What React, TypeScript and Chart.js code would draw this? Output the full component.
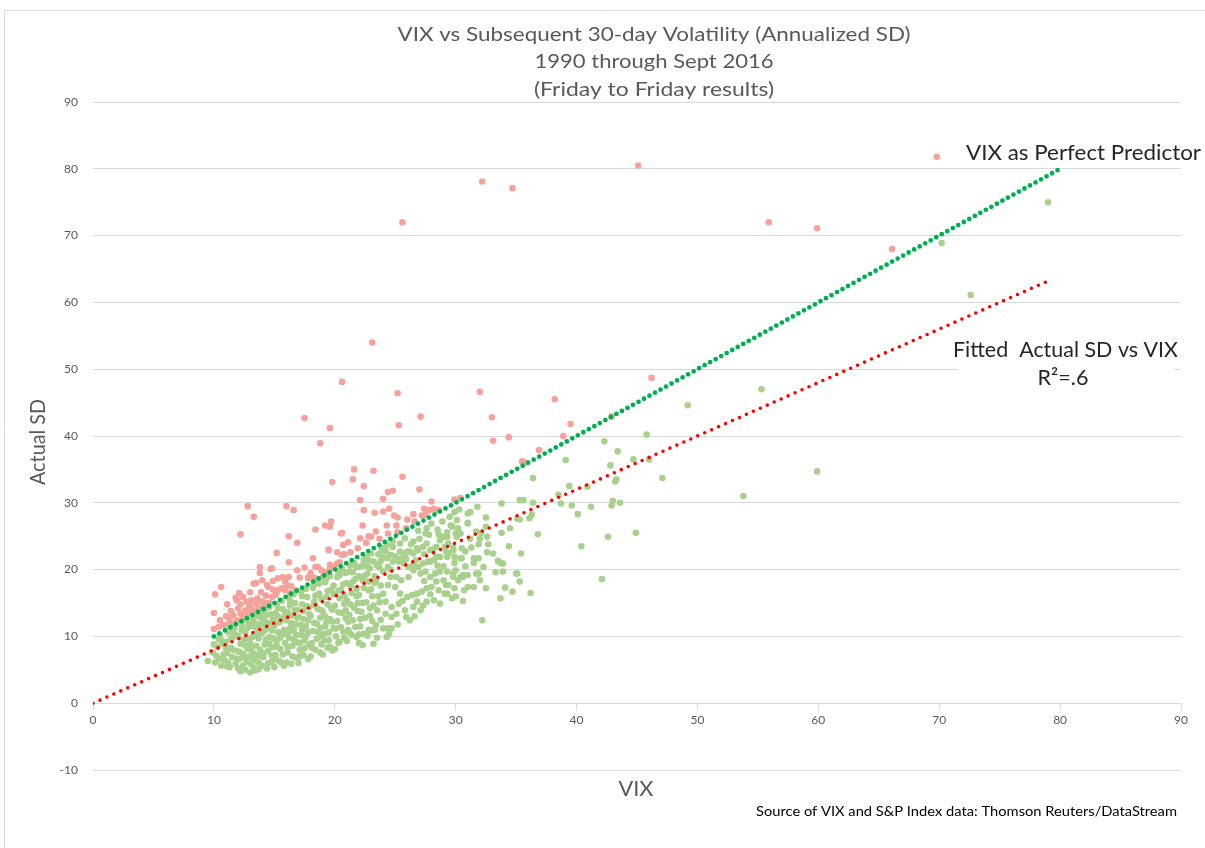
import { useEffect, useRef } from "react";
import { Chart, registerables } from "chart.js";

Chart.register(...registerables);

// ---------- axis ranges / ticks ----------
const X_MIN = 0;
const X_MAX = 90;
const Y_MIN = -10;
const Y_MAX = 90;
const TICK_STEP = 10;

// ---------- texts ----------
const TITLE_LINES = [
  "VIX vs Subsequent 30-day Volatility (Annualized SD)",
  "1990 through Sept 2016",
  "(Friday to Friday results)",
];
const X_TITLE = "VIX";
const Y_TITLE = "Actual SD";
const SOURCE_TEXT = "Source of VIX and S&P Index data: Thomson Reuters/DataStream";
const PERFECT_LABEL = "VIX as Perfect Predictor";
const FITTED_LABEL = "Fitted  Actual SD vs VIX";
const R2_LABEL = "R\u00B2=.6";

// ---------- reference lines (VIX, SD) ----------
const PERFECT_LINE: [number, number][] = [[10, 10], [80, 80]];
const FITTED_LINE: [number, number][] = [[0, 0], [79, 63.2]];

// ---------- weeks where actual SD exceeded VIX (red) ----------
const RED_POINTS: [number, number][] = [
  [32.2, 78.1], [34.7, 77.1], [45.1, 80.5], [25.6, 72.0], [69.8, 81.8], [55.9, 72.0], [59.9, 71.1], [66.1, 68.0],
  [23.1, 54.0], [20.6, 48.1], [25.2, 46.4], [32.0, 46.6], [38.2, 45.5], [46.2, 48.7], [27.1, 42.9], [17.5, 42.7],
  [33.0, 42.8], [19.6, 41.2], [25.3, 41.6], [18.8, 38.9], [33.1, 39.3], [34.4, 39.8], [39.5, 41.8], [38.9, 40.0],
  [42.9, 42.9], [36.9, 37.9], [35.5, 36.2], [35.8, 36.0], [29.9, 30.5], [30.4, 30.7],
  [21.6, 35.0], [23.2, 34.8], [21.5, 33.5], [19.8, 33.1], [22.4, 32.5], [25.6, 33.9], [27.0, 32.0], [22.1, 30.4],
  [24.4, 31.6], [24.8, 31.8], [24.0, 30.6], [28.0, 30.2], [12.8, 29.5], [13.3, 27.9], [16.0, 29.5], [16.6, 28.9],
  [22.4, 28.9], [23.3, 28.5], [24.0, 28.7], [24.5, 29.1], [24.9, 28.1], [26.5, 28.3], [27.2, 28.1], [27.5, 28.2],
  [27.4, 29.1], [28.2, 29.1], [28.6, 28.9], [26.0, 27.5], [25.1, 26.6], [22.3, 26.6], [19.2, 26.6], [19.6, 26.4],
  [19.7, 27.2], [18.4, 26.0], [12.2, 25.3], [16.2, 25.0], [20.5, 25.4], [22.8, 25.0], [23.0, 24.9], [22.1, 24.7],
  [25.9, 26.2], [27.8, 28.9], [25.2, 27.8], [26.6, 27.2], [20.6, 25.5], [23.7, 24.6], [24.4, 25.4], [25.2, 25.6],
  [20.7, 23.7], [21.1, 24.1], [19.5, 22.9], [20.2, 22.6], [20.6, 22.2], [20.8, 22.3], [19.6, 20.7], [19.9, 20.4],
  [20.2, 20.9], [20.4, 21.1], [19.0, 18.9], [19.6, 20.1],
  [16.9, 24.0], [15.2, 22.5], [16.2, 21.1], [14.7, 20.1], [13.8, 19.5], [15.7, 18.9], [13.5, 18.0], [14.9, 18.3],
  [10.6, 17.4], [10.1, 16.3], [12.1, 16.5], [14.5, 17.4], [15.3, 16.9], [15.9, 16.9], [16.4, 17.5], [17.1, 18.8],
  [17.8, 18.8], [18.2, 21.7], [19.5, 23.0], [11.8, 15.8], [18.6, 20.4], [19.2, 19.6],
  [10.0, 13.5], [10.0, 11.1], [11.1, 14.8], [11.9, 15.4], [12.2, 14.8], [12.7, 15.2], [13.1, 15.4], [13.5, 14.9],
  [14.0, 15.2], [14.4, 14.9], [13.0, 14.4], [13.4, 13.9], [13.8, 14.2], [14.2, 14.4], [14.6, 15.0], [12.6, 13.9],
  [12.8, 13.4], [13.1, 13.5], [12.2, 13.4], [12.4, 12.9], [11.9, 12.4], [11.6, 11.9], [11.2, 11.9], [10.8, 11.7],
  [11.3, 12.7], [14.8, 15.9], [15.1, 16.2], [14.4, 17.7], [14.0, 18.4], [13.3, 17.9], [15.6, 17.2], [16.0, 17.7],
  [16.3, 16.5], [16.8, 16.9], [17.8, 18.7], [18.3, 18.8], [15.3, 18.7], [15.2, 16.7], [18.4, 20.4], [18.9, 19.9],
  [13.8, 20.4], [14.8, 20.2], [16.2, 18.9], [11.6, 13.2], [10.5, 12.4],
  [12.0, 14.2], [12.9, 14.8], [13.6, 15.7], [14.3, 16.1], [12.4, 15.9], [13.0, 16.6], [11.4, 13.8], [11.0, 13.0],
  [10.4, 11.4], [15.9, 18.2], [16.9, 19.9], [17.5, 20.3], [18.0, 19.5], [21.3, 22.6], [21.9, 23.2], [22.6, 24.0],
  [23.4, 25.7], [24.3, 26.6], [13.9, 16.6], [14.9, 17.0],
];

// ---------- weeks where actual SD was below VIX (green) ----------
const GREEN_DENSE: [number, number][] = [
  [9.5, 6.3], [9.9, 7.6], [10.1, 6.1], [10.3, 8.4], [10.4, 9.6], [10.2, 7.1], [10.6, 5.6], [10.7, 8.9], [10.5, 10.2],
  [10.9, 6.4], [11.1, 7.5], [11.0, 9.2], [11.2, 10.6], [11.3, 5.4], [11.4, 8.3], [11.5, 6.9], [11.6, 9.9], [11.7, 11.2],
  [11.8, 5.9], [11.9, 7.8], [11.5, 10.9],
  [12.0, 5.2], [12.1, 6.6], [12.2, 8.9], [12.0, 10.0], [12.3, 11.6], [12.4, 7.4], [12.5, 9.5], [12.6, 5.0], [12.7, 6.2],
  [12.8, 8.1], [12.6, 10.6], [12.9, 11.9], [12.3, 12.2], [12.9, 7.0], [12.2, 4.8],
  [13.0, 4.6], [13.1, 5.8], [13.2, 7.6], [13.0, 9.0], [13.3, 10.2], [13.2, 12.6], [13.4, 6.5], [13.5, 8.6], [13.6, 11.2],
  [13.7, 5.1], [13.8, 7.1], [13.7, 9.7], [13.9, 12.8], [13.9, 13.6], [13.4, 4.9], [13.6, 13.1], [13.3, 11.5],
  [14.0, 5.6], [14.1, 6.9], [14.2, 8.8], [14.0, 10.5], [14.3, 12.1], [14.2, 14.0], [14.4, 5.2], [14.5, 7.8], [14.6, 9.9],
  [14.4, 11.3], [14.7, 13.3], [14.8, 6.2], [14.9, 8.4], [14.8, 10.9], [14.9, 12.5], [14.6, 14.4],
  [15.0, 5.4], [15.1, 7.2], [15.2, 9.3], [15.0, 11.6], [15.3, 13.0], [15.2, 14.8], [15.4, 6.3], [15.5, 8.1], [15.6, 10.4],
  [15.5, 12.3], [15.7, 14.1], [15.8, 5.6], [15.9, 9.0], [15.8, 11.0], [15.9, 13.6], [15.6, 15.3], [15.3, 10.6],
  [16.0, 6.1], [16.1, 7.6], [16.2, 9.8], [16.0, 12.4], [16.3, 14.6], [16.2, 15.8], [16.4, 5.9], [16.5, 8.6], [16.6, 10.9],
  [16.4, 13.1], [16.7, 15.0], [16.8, 6.8], [16.9, 9.1], [16.8, 11.8], [16.9, 14.0], [16.6, 16.3], [16.3, 11.2],
  [17.0, 6.0], [17.1, 8.0], [17.2, 10.2], [17.0, 12.9], [17.3, 14.8], [17.2, 16.6], [17.4, 7.2], [17.5, 9.4], [17.6, 11.5],
  [17.4, 13.8], [17.7, 15.9], [17.8, 6.6], [17.9, 8.7], [17.8, 12.4], [17.9, 14.4], [17.6, 17.1], [17.3, 11.0],
  [18.0, 7.0], [18.1, 9.0], [18.2, 10.8], [18.0, 13.1], [18.3, 15.2], [18.2, 17.3], [18.4, 8.0], [18.5, 11.9], [18.6, 14.1],
  [18.4, 16.1], [18.7, 17.9], [18.8, 7.6], [18.9, 10.1], [18.8, 12.8], [18.9, 15.6], [18.6, 18.3],
  [19.0, 7.3], [19.1, 9.4], [19.2, 11.5], [19.0, 13.7], [19.3, 15.9], [19.2, 18.1], [19.4, 8.3], [19.5, 10.6], [19.6, 12.6],
  [19.4, 14.8], [19.7, 17.0], [19.8, 7.9], [19.9, 11.2], [19.8, 14.0], [19.9, 16.3], [19.6, 19.0], [19.3, 12.1],
  [20.0, 8.1], [20.1, 10.0], [20.2, 12.3], [20.0, 14.6], [20.3, 16.8], [20.2, 18.9], [20.4, 9.2], [20.5, 11.4], [20.6, 13.5],
  [20.4, 15.7], [20.7, 17.8], [20.8, 9.8], [20.9, 12.7], [20.8, 14.9], [20.9, 19.5], [20.6, 20.1],
  [21.0, 9.3], [21.1, 11.0], [21.2, 13.2], [21.0, 15.4], [21.3, 17.6], [21.2, 19.7], [21.4, 10.2], [21.5, 12.4], [21.6, 14.3],
  [21.4, 16.5], [21.7, 18.6], [21.8, 9.9], [21.9, 13.8], [21.8, 16.0], [21.9, 20.4], [21.6, 21.0],
  [22.0, 9.0], [22.1, 11.5], [22.2, 13.7], [22.0, 16.2], [22.3, 18.4], [22.2, 20.5], [22.4, 10.4], [22.5, 12.8], [22.6, 15.1],
  [22.4, 17.3], [22.7, 19.4], [22.8, 11.0], [22.9, 14.2], [22.8, 16.9], [22.9, 21.3], [22.6, 21.9], [22.3, 8.7],
  [23.0, 10.9], [23.1, 12.3], [23.2, 14.6], [23.0, 17.1], [23.3, 19.0], [23.2, 21.2], [23.4, 11.7], [23.5, 13.9], [23.6, 16.0],
  [23.4, 18.2], [23.7, 20.3], [23.8, 12.5], [23.6, 22.3], [23.2, 8.9],
];

const GREEN_DENSE_FILL: [number, number][] = [
  [10.8, 7.3], [10.4, 6.6], [10.0, 8.8], [10.6, 9.4], [11.0, 8.2],
  [11.2, 6.0], [11.4, 9.6], [11.6, 8.0], [11.8, 10.2], [11.3, 11.4], [11.9, 6.7], [11.1, 5.5],
  [12.1, 7.7], [12.4, 5.6], [12.3, 10.9], [12.6, 8.6], [12.8, 11.3], [12.5, 6.9], [12.9, 9.6], [12.7, 12.5],
  [13.1, 8.3], [13.3, 5.3], [13.2, 9.9], [13.5, 7.2], [13.6, 10.5], [13.8, 8.0], [13.9, 11.8], [13.4, 12.0], [13.1, 6.8], [13.7, 6.1],
  [14.1, 7.5], [14.3, 9.5], [14.2, 10.9], [14.5, 6.0], [14.6, 8.8], [14.7, 12.0], [14.9, 9.7], [14.4, 13.2], [14.8, 7.1], [14.1, 12.8],
  [15.1, 6.6], [15.2, 8.5], [15.4, 12.1], [15.5, 9.8], [15.7, 7.3], [15.8, 12.8], [15.9, 10.4], [15.3, 14.2], [15.6, 6.0], [15.1, 13.5],
  [16.1, 8.4], [16.2, 10.7], [16.4, 12.0], [16.5, 7.0], [16.7, 13.9], [16.8, 10.2], [16.9, 12.8], [16.3, 15.3], [16.6, 9.5], [16.1, 13.6],
  [17.1, 9.0], [17.2, 11.7], [17.4, 12.6], [17.5, 8.2], [17.7, 14.5], [17.8, 10.6], [17.9, 13.3], [17.3, 16.0], [17.6, 10.0], [17.1, 7.0],
  [18.1, 8.3], [18.3, 12.0], [18.4, 14.6], [18.5, 9.6], [18.7, 16.4], [18.8, 11.3], [18.9, 13.9], [18.3, 17.8], [18.6, 10.6],
  [19.1, 10.4], [19.2, 13.0], [19.4, 16.8], [19.5, 9.4], [19.7, 14.3], [19.8, 12.2], [19.9, 17.6], [19.3, 18.7],
  [20.1, 11.2], [20.3, 13.6], [20.5, 17.0], [20.7, 10.7], [20.8, 16.1], [20.9, 13.9], [20.4, 19.2],
  [21.1, 12.2], [21.3, 14.8], [21.5, 18.2], [21.7, 11.4], [21.8, 17.1], [21.9, 15.0], [21.3, 20.6],
  [22.1, 12.6], [22.3, 15.0], [22.5, 19.1], [22.7, 10.1], [22.8, 18.2], [22.9, 13.1], [22.4, 21.4],
  [23.1, 16.0], [23.3, 11.0], [23.5, 20.6], [23.7, 15.1], [23.8, 17.6], [23.9, 22.9],
];

const GREEN_MID: [number, number][] = [
  [23.9, 23.2], [24.3, 23.7], [24.8, 23.4], [24.0, 21.9], [24.6, 22.2], [25.4, 22.7], [25.8, 22.4], [26.2, 22.7],
  [26.5, 22.4], [26.9, 22.9], [27.3, 23.4], [27.6, 23.9], [27.9, 22.9], [28.4, 23.4], [28.7, 24.4], [28.6, 25.3],
  [29.0, 24.9], [29.3, 25.6], [29.7, 26.4], [30.1, 27.4], [30.2, 26.2], [29.4, 23.9], [29.8, 23.2], [30.5, 23.2],
  [30.4, 21.7], [29.9, 21.9], [29.3, 21.9], [28.7, 21.9], [28.2, 21.4], [27.7, 21.2], [27.3, 20.9], [26.9, 20.4],
  [26.5, 20.7], [26.1, 20.4], [25.7, 20.9], [25.3, 21.2], [24.8, 21.2], [24.4, 20.4], [24.0, 19.7], [24.6, 18.9],
  [25.1, 18.9], [25.5, 18.4], [26.1, 18.9], [26.5, 19.9], [27.1, 19.4], [27.5, 19.7], [27.9, 18.9], [28.3, 19.4],
  [28.7, 19.7], [29.3, 19.7], [29.8, 19.4], [30.2, 18.4], [30.6, 18.9], [31.0, 19.2], [31.7, 19.4], [32.0, 18.4],
  [31.5, 17.4], [31.0, 17.4], [29.9, 17.2], [29.4, 17.7], [29.0, 18.4], [28.4, 18.2], [28.0, 17.4], [27.6, 17.2],
  [27.2, 16.7], [26.8, 16.4], [26.4, 16.2], [26.0, 15.9], [25.4, 16.4], [25.0, 17.4], [24.4, 17.7], [24.0, 16.4],
  [24.2, 15.2], [24.7, 14.4], [25.3, 14.9], [25.8, 13.9], [26.5, 14.4], [27.1, 13.9], [27.6, 15.2], [28.2, 15.4],
  [28.7, 14.9], [29.3, 16.4], [29.7, 15.7], [24.2, 13.4], [24.7, 12.9], [25.1, 13.4], [26.2, 12.4], [24.0, 11.2],
  [24.4, 11.2], [24.7, 11.2], [24.3, 9.9],
  [26.5, 24.2], [26.8, 23.2], [27.5, 25.4], [27.6, 26.2], [26.0, 22.7], [25.5, 21.7], [24.3, 21.7], [23.6, 20.7],
  [22.9, 20.2], [22.4, 20.7], [21.8, 20.4], [29.8, 22.9], [28.4, 21.9], [27.9, 21.2],
  [20.3, 19.7], [21.0, 18.0], [21.5, 19.6], [22.0, 19.0], [22.6, 20.6], [23.0, 22.4], [23.3, 18.0], [23.8, 21.3],
  [24.2, 22.8], [24.6, 20.0], [25.0, 22.0], [25.4, 23.9], [25.9, 21.6], [26.3, 23.8], [26.7, 21.4], [27.0, 24.6],
  [27.4, 22.3], [27.8, 25.2], [28.1, 23.0], [28.5, 26.0], [28.9, 27.2], [29.2, 22.7], [29.5, 27.9], [29.9, 28.6],
  [30.3, 29.0], [28.0, 26.9], [26.9, 25.8], [25.8, 24.7], [24.8, 24.3], [23.5, 9.8], [24.5, 10.4], [25.2, 11.8],
  [25.9, 12.9], [26.6, 13.0], [27.3, 14.6], [27.9, 16.3], [28.6, 16.9], [29.2, 17.7], [30.0, 19.9], [21.2, 10.6],
  [22.0, 10.3], [20.3, 9.0], [19.6, 8.4], [18.9, 8.8], [25.6, 15.3], [26.8, 15.2], [27.4, 18.3], [28.5, 20.6],
  [29.0, 20.5], [30.8, 20.5], [31.3, 23.3], [31.9, 23.8], [32.7, 23.8], [32.3, 20.4], [31.2, 24.6], [30.8, 22.7],
];

const GREEN_SPARSE: [number, number][] = [
  [49.2, 44.6], [55.3, 47.0], [45.8, 40.2], [42.3, 39.2], [43.4, 37.7], [39.1, 36.4], [42.8, 35.6], [44.7, 36.5],
  [46.0, 36.5], [47.1, 33.7], [36.4, 33.7], [39.4, 32.5], [40.9, 32.4], [43.3, 33.5], [43.2, 33.2], [38.5, 31.2],
  [38.7, 29.9], [39.6, 29.6], [40.1, 28.3], [41.2, 29.4], [43.0, 30.3], [42.9, 29.6], [43.6, 30.0], [36.4, 30.0],
  [35.3, 30.4], [35.6, 30.4], [33.8, 29.9], [44.9, 25.5], [42.6, 24.9], [40.4, 23.5], [36.8, 25.3], [35.4, 22.4],
  [34.5, 26.2], [36.3, 28.2], [35.1, 27.6], [42.1, 18.6], [36.2, 16.5], [34.7, 16.7], [35.3, 18.2], [34.1, 17.3],
  [35.0, 19.4], [33.9, 19.7], [33.3, 19.6], [33.7, 21.0], [32.2, 12.4], [32.5, 17.2], [33.1, 22.4], [31.9, 21.7],
  [31.5, 21.0], [30.7, 16.9], [30.4, 18.9], [30.6, 15.3], [30.0, 16.0], [31.7, 25.7], [32.1, 25.5], [32.5, 27.8],
  [32.0, 24.6], [32.6, 24.9], [31.8, 29.4], [31.0, 28.4], [31.0, 27.0], [30.1, 24.9], [29.6, 26.6], [30.4, 25.4],
  [53.8, 31.0], [59.9, 34.7], [70.2, 68.9], [72.6, 61.1], [79.0, 75.0],
  [31.2, 28.6], [36.1, 27.7], [35.3, 27.5], [32.5, 26.4], [31.0, 26.9], [29.7, 26.5], [30.0, 25.4], [29.3, 24.9],
  [29.1, 23.4], [29.4, 22.4], [29.9, 21.0], [30.5, 21.7], [31.5, 21.7], [32.6, 22.6], [33.5, 21.3], [33.9, 20.9],
  [34.4, 23.5], [33.8, 25.5], [35.1, 19.4], [33.7, 15.7], [31.9, 19.4], [30.6, 19.2], [29.1, 16.4], [29.8, 18.9],
];

// ---------- styling ----------
const FONT = "Lato, 'Open Sans', sans-serif";
const GRAY = "#595959";
const GRID = "#d9d9d9";
const GREEN_DOT = "#A9D18E";
const RED_DOT = "#F4A29B";

const toXY = (pts: [number, number][]) => pts.map(([x, y]) => ({ x, y }));

function drawText(
  ctx: CanvasRenderingContext2D,
  text: string,
  x: number,
  y: number,
  o: { size: number; color: string; align?: CanvasTextAlign; width?: number; rotate?: number }
) {
  ctx.save();
  ctx.font = `${o.size}px ${FONT}`;
  ctx.fillStyle = o.color;
  ctx.textBaseline = "middle";
  ctx.textAlign = o.align || "center";
  const w = ctx.measureText(text).width;
  const sx = o.width ? o.width / w : 1;
  ctx.translate(x, y);
  if (o.rotate) ctx.rotate(o.rotate);
  ctx.scale(sx, 1);
  ctx.fillText(text, 0, 0);
  ctx.restore();
}

const decorPlugin = {
  id: "decor",
  beforeDraw(chart: any) {
    const ctx = chart.ctx as CanvasRenderingContext2D;
    ctx.save();
    ctx.fillStyle = "#ffffff";
    ctx.fillRect(0, 0, chart.width, chart.height);
    ctx.strokeStyle = GRID;
    ctx.lineWidth = 1;
    ctx.beginPath();
    ctx.moveTo(4.5, chart.height);
    ctx.lineTo(4.5, 10.5);
    ctx.lineTo(chart.width, 10.5);
    ctx.stroke();
    ctx.restore();
  },
  afterDraw(chart: any) {
    const ctx = chart.ctx as CanvasRenderingContext2D;
    drawText(ctx, TITLE_LINES[0], 654, 35, { size: 20, color: GRAY, width: 513 });
    drawText(ctx, TITLE_LINES[1], 654, 62, { size: 20, color: GRAY, width: 239 });
    drawText(ctx, TITLE_LINES[2], 654, 90, { size: 20, color: GRAY, width: 240 });

    drawText(ctx, PERFECT_LABEL, 966, 153, { size: 22, color: "#262626", align: "left", width: 235 });

    ctx.save();
    ctx.fillStyle = "#ffffff";
    ctx.fillRect(958, 334, 216, 58);
    ctx.restore();
    drawText(ctx, FITTED_LABEL, 953, 350, { size: 22, color: "#262626", align: "left", width: 225 });
    drawText(ctx, R2_LABEL, 1063, 378, { size: 22, color: "#262626", width: 51 });

    drawText(ctx, X_TITLE, 636, 789, { size: 22, color: GRAY, width: 35 });
    drawText(ctx, Y_TITLE, 38, 442, { size: 22, color: GRAY, width: 86, rotate: -Math.PI / 2 });
    drawText(ctx, SOURCE_TEXT, 1177, 812, { size: 13, color: "#000000", align: "right", width: 421 });
  },
};

export default function App() {
  const canvasRef = useRef<HTMLCanvasElement | null>(null);

  useEffect(() => {
    if (!canvasRef.current) return;
    const chart = new Chart(canvasRef.current, {
      type: "scatter",
      data: {
        datasets: [
          {
            type: "line",
            label: PERFECT_LABEL,
            data: toXY(PERFECT_LINE),
            borderColor: "#00B050",
            borderWidth: 4.8,
            borderDash: [0, 6.3],
            borderCapStyle: "round",
            pointRadius: 0,
            fill: false,
            order: 0,
          },
          {
            type: "line",
            label: FITTED_LABEL,
            data: toXY(FITTED_LINE),
            borderColor: "#FF0000",
            borderWidth: 3.6,
            borderDash: [0, 7.6],
            borderCapStyle: "round",
            pointRadius: 0,
            fill: false,
            order: 0,
          },
          {
            label: "SD above VIX",
            data: toXY(RED_POINTS),
            backgroundColor: RED_DOT,
            borderWidth: 0,
            pointRadius: 3.3,
            order: 2,
          },
          {
            label: "SD below VIX",
            data: toXY([...GREEN_DENSE, ...GREEN_DENSE_FILL, ...GREEN_MID, ...GREEN_SPARSE]),
            backgroundColor: GREEN_DOT,
            borderWidth: 0,
            pointRadius: 3.3,
            order: 1,
          },
        ],
      },
      options: {
        responsive: false,
        animation: false,
        events: [],
        layout: { padding: { top: 102, bottom: 78, left: 0, right: 24 } },
        plugins: {
          legend: { display: false },
          tooltip: { enabled: false },
          title: { display: false },
        },
        scales: {
          x: {
            type: "linear",
            position: { y: 0 },
            min: X_MIN,
            max: X_MAX,
            ticks: {
              stepSize: TICK_STEP,
              color: GRAY,
              font: { size: 12, family: FONT },
              padding: 4,
              maxRotation: 0,
            },
            grid: { drawOnChartArea: false, drawTicks: true, tickLength: 6, color: GRID },
            border: { color: GRID, width: 1 },
          },
          y: {
            type: "linear",
            min: Y_MIN,
            max: Y_MAX,
            ticks: {
              stepSize: TICK_STEP,
              color: GRAY,
              font: { size: 12, family: FONT },
              padding: 15,
            },
            grid: { color: GRID, drawTicks: false },
            border: { display: false },
            afterFit: (s: any) => {
              s.width = 93;
            },
          },
        },
      },
      plugins: [decorPlugin],
    } as any);
    return () => chart.destroy();
  }, []);

  return (
    <div style={{ position: "fixed", left: 0, top: 0, width: 1205, height: 848, background: "#fff" }}>
      <canvas ref={canvasRef} width={1205} height={848} style={{ display: "block" }} />
    </div>
  );
}
